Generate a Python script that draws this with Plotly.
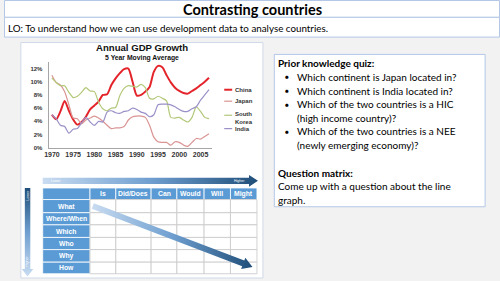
import math
import plotly.graph_objects as go

W, H = 500, 281

# ---------------- data ----------------
years = list(range(1970, 2008))
china = [5.0, 4.3, 5.5, 7.1, 5.6, 4.3, 3.5, 3.9, 4.7, 5.8, 6.4, 7.0, 8.0, 8.1, 9.5, 10.5,
         11.3, 11.9, 12.0, 10.0, 7.9, 8.0, 8.5, 9.2, 11.5, 12.4, 12.2, 11.0, 9.9, 9.1,
         8.6, 8.3, 8.2, 8.6, 9.0, 9.5, 10.0, 10.6]
japan = [11.0, 9.9, 9.5, 8.5, 6.5, 4.5, 4.4, 3.6, 4.2, 4.5, 4.8, 4.5, 4.0, 3.4, 2.9, 3.0,
         3.0, 3.2, 4.2, 4.7, 4.8, 4.8, 4.6, 3.4, 1.6, 0.9, 0.8, 0.8, 0.4, 0.9,
         0.8, 0.4, 0.2, 0.8, 1.4, 1.3, 1.7, 2.1]
south_korea = [10.6, 9.9, 9.4, 9.4, 8.4, 7.6, 7.8, 8.4, 9.1, 8.6, 8.5, 6.9, 5.9, 5.6, 6.0, 6.1,
               7.9, 9.0, 9.4, 9.3, 9.2, 9.6, 9.1, 7.5, 7.4, 7.8, 7.5, 7.1, 4.6, 4.5,
               4.6, 4.2, 3.9, 4.6, 6.2, 5.5, 4.6, 4.4]
india = [5.0, 4.4, 3.4, 3.2, 2.2, 2.8, 2.9, 3.8, 4.6, 3.9, 3.4, 4.0, 3.9, 5.4, 5.6, 5.3,
         5.2, 5.5, 5.6, 6.0, 5.8, 5.4, 5.2, 4.7, 5.0, 6.5, 6.6, 6.6, 6.5, 6.2,
         5.8, 5.5, 5.5, 5.9, 6.2, 7.2, 8.0, 8.8]
series_values = [china, japan, south_korea, india]
series_names = ["China", "Japan", "South<br>Korea", "India"]

x_tick_years = [1970, 1975, 1980, 1985, 1990, 1995, 2000, 2005]
y_tick_values = [0, 2, 4, 6, 8, 10, 12]
y_tick_labels = ["0%", "2%", "4%", "6%", "8%", "10%", "12%"]

chart_title = "Annual GDP Growth"
chart_subtitle = "5 Year Moving Average"
slide_title = "Contrasting countries"
lo_text = "LO: To understand how we can use development data to analyse countries."

quiz_heading = "Prior knowledge quiz:"
quiz_items = [
    ["Which continent is Japan located in?"],
    ["Which continent is India located in?"],
    ["Which of the two countries is a HIC", "(high income country)?"],
    ["Which of the two countries is a NEE", "(newly emerging economy)?"],
]
matrix_heading = "Question matrix:"
matrix_text = ["Come up with a question about the line", "graph."]

matrix_cols = ["", "Is", "Did/Does", "Can", "Would", "Will", "Might"]
matrix_rows = ["What", "Where/When", "Which", "Who", "Why", "How"]

# ---------------- styles ----------------
series_colors = ["#e4242b", "#da9494", "#b2c878", "#9b90c8"]
series_widths = [2.0, 1.2, 1.2, 1.2]
SLIDE_FONT = "Lato"
CHART_FONT = "Liberation Sans"


def fx(x):
    return x / W


def fy(y):
    return 1 - y / H


shapes = []
annotations = []


def rect(x0, y0, x1, y1, fill, line="rgba(0,0,0,0)", lw=1):
    shapes.append(dict(type="rect", xref="paper", yref="paper",
                       x0=fx(x0), x1=fx(x1), y0=fy(y1), y1=fy(y0),
                       fillcolor=fill, line=dict(color=line, width=lw), layer="below"))


def text(t, x, y, size, color="black", family=SLIDE_FONT, xanchor="left", textangle=0):
    annotations.append(dict(text=t, x=fx(x), y=fy(y), xref="paper", yref="paper",
                            xanchor=xanchor, yanchor="middle", showarrow=False,
                            textangle=textangle,
                            font=dict(size=size, color=color, family=family),
                            borderpad=0))


fig = go.Figure()

# ---------------- slide frames ----------------
BORDER = "#b4c7e7"
rect(0.5, 0.5, 499.5, 17.5, "white", BORDER)
rect(0.5, 17.5, 499.5, 37.5, "white", BORDER)
rect(17, 43, 261, 281, "white", "#d0d9e8")
rect(272.5, 55, 485, 209, "white", BORDER)

text("<b>" + slide_title + "</b>", 250, 9.5, 14.5, xanchor="center")
text(lo_text, 3, 28.5, 9.8)

# right text box
text("<b>" + quiz_heading + "</b>", 275, 64, 10)
yy = 77.7
for item in quiz_items:
    text("●", 282, yy, 6.5)
    for i, line in enumerate(item):
        text(line, 294, yy, 10)
        yy += 13.8
text("<b>" + matrix_heading + "</b>", 275, 175, 10)
text(matrix_text[0], 275, 188, 10)
text(matrix_text[1], 275, 202.3, 10)

# ---------------- GDP chart ----------------
X_PX0, X_PX1 = 45, 210
YEAR_PX = 4.28
YEAR0_PX = 48.3
Y_PX0, Y_PX1 = 149.3, 63
PCT_PX = 6.667
x_range = [1970 - (YEAR0_PX - X_PX0) / YEAR_PX, 1970 + (X_PX1 - YEAR0_PX) / YEAR_PX]
y_range = [0, (Y_PX0 - Y_PX1) / PCT_PX]

for name, vals, col, w in zip(series_names, series_values, series_colors, series_widths):
    fig.add_trace(go.Scatter(x=years, y=vals, mode="lines", name=name.replace("<br>", " "),
                             line=dict(color=col, width=w, shape="spline", smoothing=0.7),
                             showlegend=False, hoverinfo="skip", xaxis="x", yaxis="y"))

# chart title + subtitle in one text block
text("<span style='font-size:9.6px'><b>" + chart_title + "</b></span><br><b>" + chart_subtitle + "</b>",
     139, 53, 6.8, color="#111", family=CHART_FONT, xanchor="center")

# legend
leg_y = [90.7, 102.3, 119, 130]
leg_line_y = [90.7, 102.3, 116.5, 130]
for name, col, ty, ly, w in zip(series_names, series_colors, leg_y, leg_line_y, series_widths):
    shapes.append(dict(type="line", xref="paper", yref="paper",
                       x0=fx(222), x1=fx(230), y0=fy(ly), y1=fy(ly),
                       line=dict(color=col, width=w)))
    text("<b>" + name + "</b>", 231.5, ty, 6, color="#333", family=CHART_FONT)

# ---------------- question matrix ----------------
fig.update_layout(
    xaxis2=dict(domain=[0, 1], range=[0, W], visible=False, anchor="y2", fixedrange=True),
    yaxis2=dict(domain=[0, 1], range=[H, 0], visible=False, anchor="x2", fixedrange=True),
)

GRAD = [[0, "#c9dcf1"], [0.5, "#6f9fd0"], [1, "#1f4e79"]]


def poly(xs, ys, gtype):
    fig.add_trace(go.Scatter(x=xs + [xs[0]], y=ys + [ys[0]], mode="lines", fill="toself",
                             line=dict(width=0, color="rgba(0,0,0,0)"),
                             fillgradient=dict(type=gtype, colorscale=GRAD),
                             xaxis="x2", yaxis="y2", showlegend=False, hoverinfo="skip"))


# horizontal arrow
poly([39, 247, 247, 256, 247, 247, 39], [179.7, 179.7, 176.8, 182.8, 188.8, 185.9, 185.9], "horizontal")
text("Lower", 46, 182.8, 3.5, color="white", family=CHART_FONT)
text("Higher", 244, 182.8, 3.5, color="white", family=CHART_FONT, xanchor="right")

# vertical arrow
poly([21, 26.5, 26.5, 29.5, 23.75, 18, 21], [190, 190, 272, 272, 279.5, 272, 272], "vertical")
text("Lower", 23.75, 198, 3.5, color="white", family=CHART_FONT, xanchor="center", textangle=-90)
text("Higher", 23.75, 264, 3.5, color="white", family=CHART_FONT, xanchor="center", textangle=-90)

# table
col_edges = [39, 86.7, 112.7, 148.3, 174.3, 201.7, 228.3, 255]
row_edges = [190, 201.7, 215, 227.3, 240, 252.3, 265, 276.7]
BLUE = "#5b9bd5"
for r in range(len(row_edges) - 1):
    for c in range(len(col_edges) - 1):
        blue = r == 0 or c == 0
        rect(col_edges[c], row_edges[r], col_edges[c + 1], row_edges[r + 1],
             BLUE if blue else "white", "white" if blue else "#c8c8c8", 0.8)
for c, lab in enumerate(matrix_cols):
    if lab:
        text("<b>" + lab + "</b>", (col_edges[c] + col_edges[c + 1]) / 2,
             (row_edges[0] + row_edges[1]) / 2, 6.8, color="white", family=CHART_FONT, xanchor="center")
for r, lab in enumerate(matrix_rows):
    text("<b>" + lab + "</b>", (col_edges[0] + col_edges[1]) / 2,
         (row_edges[r + 1] + row_edges[r + 2]) / 2, 6.8, color="white", family=CHART_FONT, xanchor="center")

# diagonal arrow
sx, sy, ex, ey = 89.5, 208.3, 250.5, 269.8
L = math.hypot(ex - sx, ey - sy)
ux, uy = (ex - sx) / L, (ey - sy) / L
nx, ny = -uy, ux
bw, hw, hl = 3.0, 6.0, 10.0
bx, by = ex - ux * hl, ey - uy * hl
pts = [(sx + nx * bw, sy + ny * bw), (bx + nx * bw, by + ny * bw), (bx + nx * hw, by + ny * hw),
       (ex, ey), (bx - nx * hw, by - ny * hw), (bx - nx * bw, by - ny * bw), (sx - nx * bw, sy - ny * bw)]
poly([p[0] for p in pts], [p[1] for p in pts], "horizontal")

# ---------------- layout ----------------
fig.update_layout(
    width=W, height=H, margin=dict(l=0, r=0, t=0, b=0),
    paper_bgcolor="#f2f2f2", plot_bgcolor="rgba(0,0,0,0)",
    xaxis=dict(domain=[fx(X_PX0), fx(X_PX1)], range=x_range, showline=True, linecolor="#a6a6a6",
               linewidth=1, showgrid=False, zeroline=False, tickvals=x_tick_years,
               ticktext=["<b>%d</b>" % y for y in x_tick_years], ticks="",
               tickfont=dict(size=7, color="#333", family=CHART_FONT), fixedrange=True, anchor="y"),
    yaxis=dict(domain=[fy(Y_PX0), fy(Y_PX1)], range=y_range, showline=True, linecolor="#a6a6a6",
               linewidth=1, showgrid=False, zeroline=False, tickvals=y_tick_values,
               ticktext=["<b>%s</b>" % t for t in y_tick_labels], ticks="",
               tickfont=dict(size=6, color="#333", family=CHART_FONT), ticklabelstandoff=4,
               fixedrange=True, anchor="x"),
    shapes=shapes, annotations=annotations, showlegend=False,
)

fig.write_html("out.html")
